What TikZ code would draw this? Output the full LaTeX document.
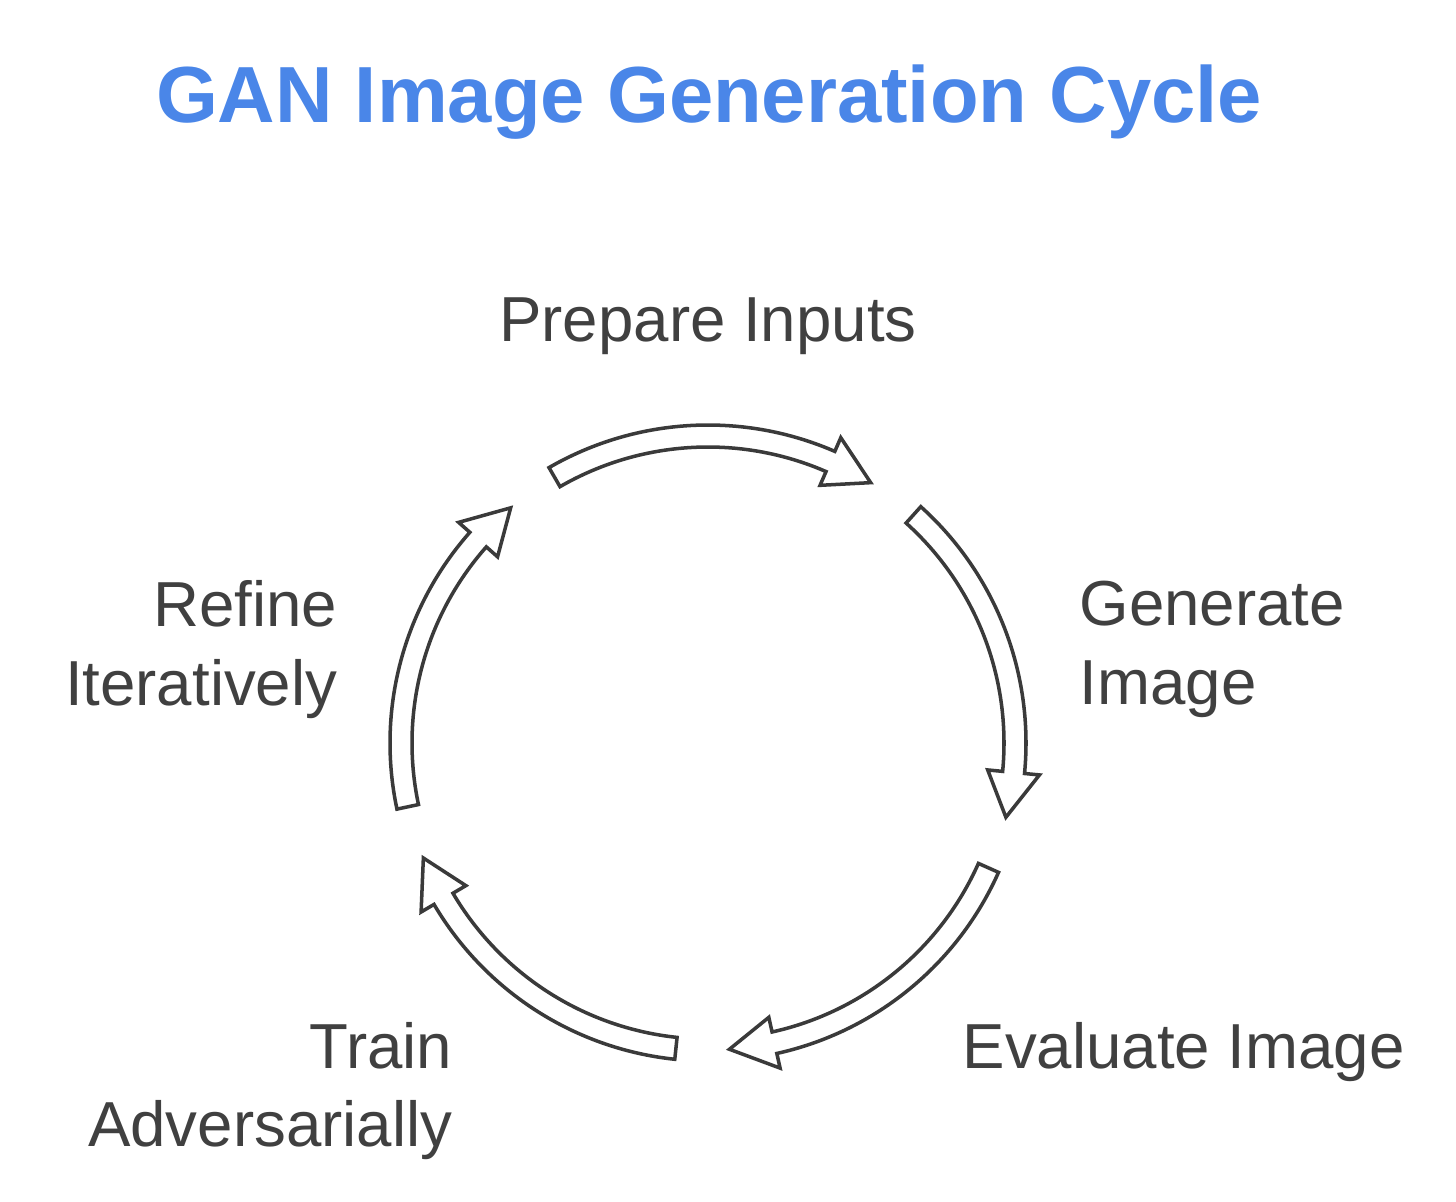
\documentclass[tikz,border=0pt]{standalone}
\usepackage{fontspec}
\setmainfont{Liberation Sans}
\usetikzlibrary{calc}

\definecolor{titleblue}{HTML}{4A86E8}
\definecolor{textgray}{HTML}{404040}
\definecolor{linegray}{HTML}{3A3A3A}

\begin{document}
\begin{tikzpicture}[
    mytitle/.style={
        anchor=base,
        inner sep=0pt,
        text=titleblue,
        font=\fontsize{22.65pt}{27pt}\selectfont\bfseries
    },
    mylabel/.style={
        inner sep=0pt,
        text=textgray,
        font=\fontsize{18.1pt}{22.2pt}\selectfont
    },
    cyclearrow/.pic={
        \draw [line width=1pt, draw=linegray, fill=white, line join=miter]
            (#1:3.18) arc[start angle=#1, end angle=#1-53.5, radius=3.18]
            -- ({#1-53.5}:3.33) -- ({#1-62}:3.07) -- ({#1-53.5}:2.81)
            -- ({#1-53.5}:2.96) arc[start angle=#1-53.5, end angle=#1, radius=2.96]
            -- cycle;
    }
]
\useasboundingbox (0,0) rectangle (14.56,-12.01);

\node (title) [mytitle] at (7.09,-1.23) {GAN Image Generation Cycle};

\coordinate (hub) at (7.08,-7.43);
\pic at (hub) {cyclearrow=120};
\pic at (hub) {cyclearrow=48};
\pic at (hub) {cyclearrow=-24};
\pic at (hub) {cyclearrow=-96};
\pic at (hub) {cyclearrow=-168};

\node (prepare) [mylabel, anchor=base] at (7.08,-3.41) {Prepare Inputs};
\node (generate) [mylabel, align=left, anchor=base west] at (10.79,-7.04) {Generate\\Image};
\node (evaluate) [mylabel, anchor=base west] at (9.62,-10.68) {Evaluate Image};
\node (train) [mylabel, align=right, anchor=base east] at (4.53,-11.46) {Train\\Adversarially};
\node (refine) [mylabel, align=right, anchor=base east] at (3.38,-7.05) {Refine\\Iteratively};
\end{tikzpicture}
\end{document}
